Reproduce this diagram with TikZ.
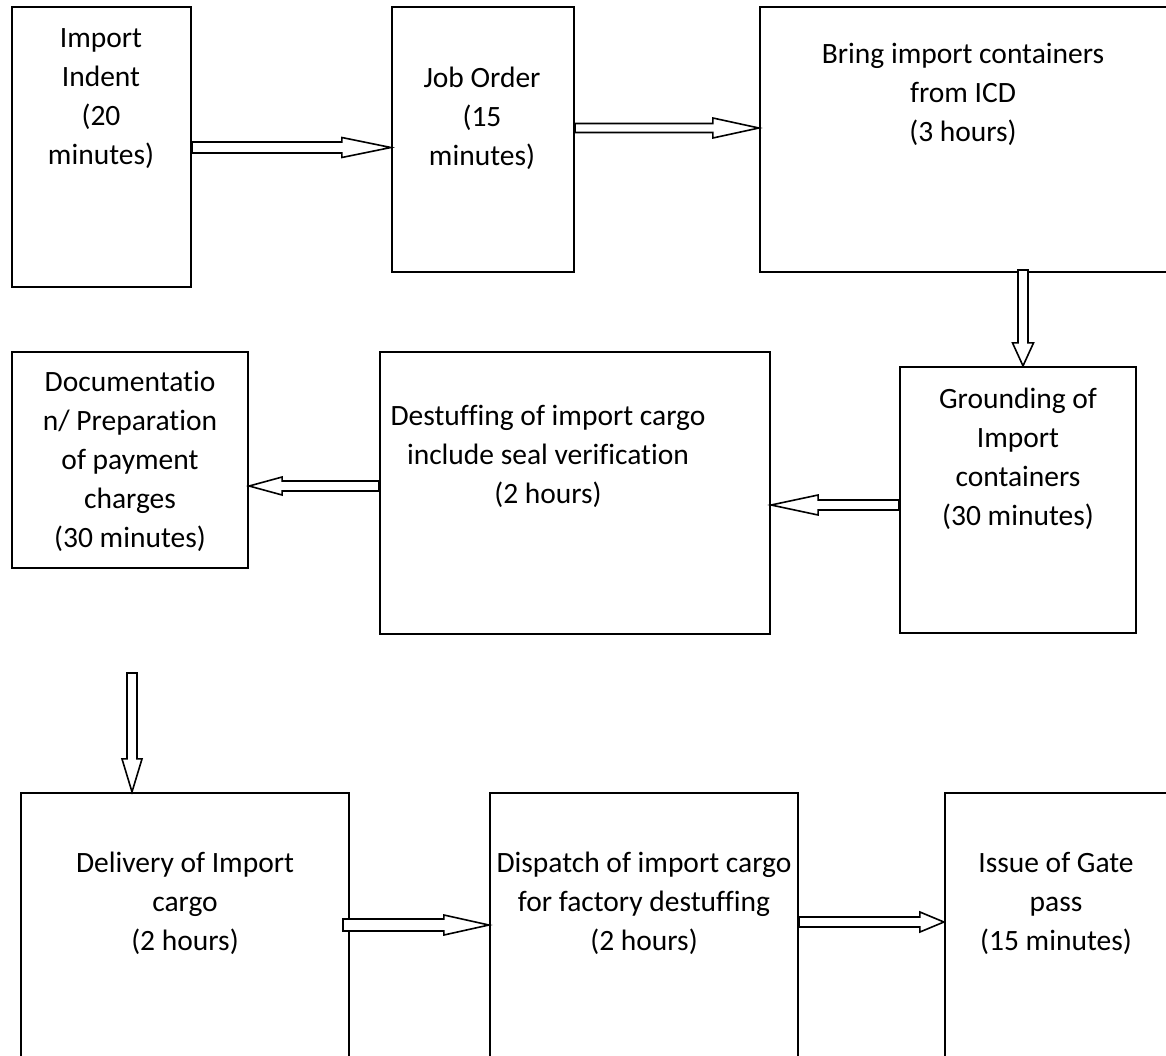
\documentclass[tikz,border=0pt]{standalone}
\usepackage{fontspec}
\setmainfont{Carlito}[Ligatures=NoCommon]
\usetikzlibrary{calc}

\tikzset{
  stepbox/.style={draw=black, line width=2.2pt, fill=none, rectangle, inner sep=0pt},
  steptext/.style={align=center, inner sep=0pt, font=\fontsize{29.5}{39}\selectfont},
  hollowarrow/.style={draw=black, line width=1.6pt, fill=white, line join=miter},
}

% Block arrow outline from #1 to #2: #3 half shaft width, #4 half head width, #5 head length
\newcommand{\blockarrow}[5]{%
  \coordinate (ahb) at ($(#2)!#5!(#1)$);
  \draw[hollowarrow]
    ($(#1)!#3!90:(#2)$) -- ($(ahb)!#3!-90:(#1)$) -- ($(ahb)!#4!-90:(#1)$)
    -- (#2) -- ($(ahb)!#4!90:(#1)$) -- ($(ahb)!#3!90:(#1)$)
    -- ($(#1)!#3!-90:(#2)$) -- cycle;
}

\begin{document}
\begin{tikzpicture}[x=1pt, y=-1pt]
  \useasboundingbox (0,0) rectangle (1166,1055);
  \clip (0,0) rectangle (1166,1055);
  \fill[white] (0,0) rectangle (1166,1055);

  % top row
  \node[stepbox, minimum width=179pt, minimum height=280pt] (b1) at (101.5,147) {};
  \node[stepbox, minimum width=182pt, minimum height=265pt] (b2) at (483,139.5) {};
  \node[stepbox, minimum width=420pt, minimum height=265pt] (b3) at (970,139.5) {};

  % middle row
  \node[stepbox, minimum width=236pt, minimum height=266pt] (b4) at (1018,500) {};
  \node[stepbox, minimum width=390pt, minimum height=282pt] (b5) at (575,493) {};
  \node[stepbox, minimum width=236pt, minimum height=216pt] (b6) at (130,460) {};

  % bottom row
  \node[stepbox, minimum width=328pt, minimum height=282pt] (b7) at (185,934) {};
  \node[stepbox, minimum width=308pt, minimum height=282pt] (b8) at (644,934) {};
  \node[stepbox, minimum width=235pt, minimum height=282pt] (b9) at (1062.5,934) {};

  % labels
  \node[steptext] (t1) at (101,98.5) {Import\\Indent\\(20\\minutes)};
  \node[steptext] (t2) at (482,118) {Job Order\\(15\\minutes)};
  \node[steptext] (t3) at (963,94) {Bring import containers\\from ICD\\(3 hours)};
  \node[steptext] (t4) at (1018,459) {Grounding of\\Import\\containers\\(30 minutes)};
  \node[steptext] (t5) at (548,456) {Destuffing of import cargo\\include seal verification\\(2 hours)};
  \node[steptext] (t6) at (130,461.5) {Documentatio\\n/ Preparation\\of payment\\charges\\(30 minutes)};
  \node[steptext] (t7) at (185,903) {Delivery of Import\\cargo\\(2 hours)};
  \node[steptext] (t8) at (644,903) {Dispatch of import cargo\\for factory destuffing\\(2 hours)};
  \node[steptext] (t9) at (1056,903) {Issue of Gate\\pass\\(15 minutes)};

  % connector end points
  \coordinate (a1s) at (b1.east |- 0,147.5);
  \coordinate (a1e) at (b2.west |- 0,147.5);
  \coordinate (a2s) at (b2.east |- 0,128);
  \coordinate (a2e) at (b3.west |- 0,128);
  \coordinate (a3s) at (1023,270);
  \coordinate (a3e) at (b4.north -| 1023,0);
  \coordinate (a4s) at (b4.west |- 0,505);
  \coordinate (a4e) at (b5.east |- 0,505);
  \coordinate (a5s) at (b5.west |- 0,486);
  \coordinate (a5e) at (b6.east |- 0,486);
  \coordinate (a6s) at (132,673);
  \coordinate (a6e) at (b7.north -| 132,0);
  \coordinate (a7s) at (343,925);
  \coordinate (a7e) at (b8.west |- 0,925);
  \coordinate (a8s) at (b8.east |- 0,922);
  \coordinate (a8e) at (b9.west |- 0,922);

  % connectors
  \blockarrow{a1s}{a1e}{5.5pt}{10pt}{49pt}
  \blockarrow{a2s}{a2e}{4.5pt}{10pt}{46pt}
  \blockarrow{a3s}{a3e}{5pt}{10.5pt}{23pt}
  \blockarrow{a4s}{a4e}{5pt}{10pt}{47pt}
  \blockarrow{a5s}{a5e}{5pt}{9pt}{33pt}
  \blockarrow{a6s}{a6e}{5pt}{10pt}{33pt}
  \blockarrow{a7s}{a7e}{6pt}{10pt}{45pt}
  \blockarrow{a8s}{a8e}{5pt}{10pt}{24pt}
\end{tikzpicture}
\end{document}
